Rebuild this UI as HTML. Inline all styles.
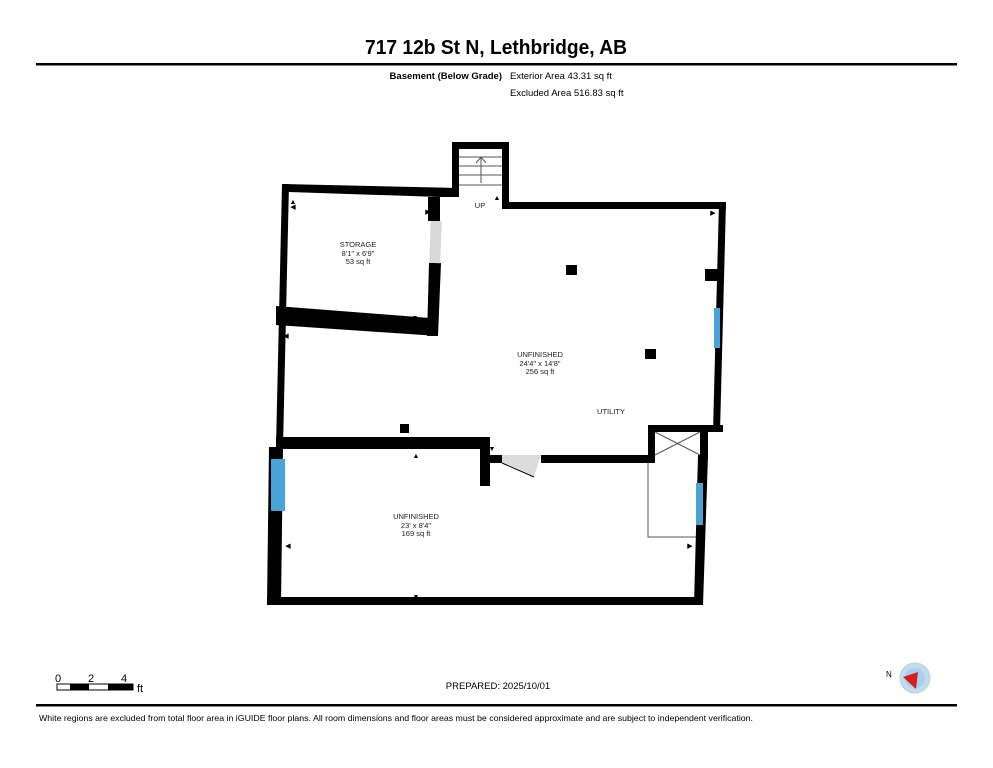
<!DOCTYPE html>
<html><head><meta charset="utf-8"><style>
html,body{margin:0;padding:0;background:#fff;}
svg{display:block;font-family:"Liberation Sans",Arial,sans-serif;}
</style></head><body>
<svg width="993" height="768" viewBox="0 0 993 768" xmlns="http://www.w3.org/2000/svg">
<rect width="993" height="768" fill="#fff"/>
<text x="496" y="54" font-size="20" font-weight="bold" text-anchor="middle" textLength="262" lengthAdjust="spacingAndGlyphs">717 12b St N, Lethbridge, AB</text>
<rect x="36" y="63" width="921" height="2.5" fill="#000"/>
<text x="502" y="79" font-size="9.5" font-weight="bold" text-anchor="end">Basement (Below Grade)</text>
<text x="510" y="79" font-size="9.5">Exterior Area 43.31 sq ft</text>
<text x="510" y="96" font-size="9.5">Excluded Area 516.83 sq ft</text>

<g fill="#000">
<!-- stair box -->
<path d="M452,142 H509 V209 H502 V149 H459 V195 H452 Z"/>
<!-- storage top wall -->
<path d="M282,184 L459,188 L459,197 L440,197 L289,192 Z"/>
<!-- storage right wall -->
<rect x="428" y="197" width="12" height="24"/>
<polygon points="429,263 441,263 438,336 427,336"/>
<!-- storage bottom wall -->
<polygon points="276,306 430,318 438,336 276,325"/>
<!-- main top wall -->
<rect x="502" y="202" width="224" height="7"/>
<!-- right wall -->
<polygon points="719,202 726,202 720,432 713,432"/>
<rect x="705" y="269" width="15" height="12"/>
<!-- utility notch -->
<rect x="648" y="425" width="75" height="7"/>
<rect x="648" y="425" width="7" height="38"/>
<rect x="700" y="425" width="8" height="35"/>
<!-- left wall -->
<polygon points="282,184 289,184 283,447 276,447"/>
<polygon points="269,447 283,447 281,605 267,605"/>
<!-- lower right wall -->
<polygon points="698,455 708,455 703,605 694,605"/>
<!-- bottom wall -->
<polygon points="267,597 700,597 700,605 267,605"/>
<!-- middle wall -->
<rect x="276" y="437" width="214" height="12"/>
<rect x="480" y="437" width="10" height="49"/>
<rect x="489" y="455" width="13" height="8"/>
<rect x="541" y="455" width="112" height="8"/>
<!-- columns -->
<rect x="566" y="265" width="11" height="10"/>
<rect x="645" y="349" width="11" height="10"/>
<rect x="400" y="424" width="9" height="9"/>
</g>
<!-- door gray -->
<rect x="430" y="221" width="11" height="42" fill="#d8d8d8" transform="rotate(2 435 242)"/>
<path d="M502,455 H541 L537,467 Q535,473 534,477 L502,463 Z" fill="#dcdcdc"/>
<line x1="502" y1="463" x2="534" y2="477" stroke="#000" stroke-width="1"/>
<!-- windows -->
<rect x="714" y="308" width="6" height="40" fill="#4aa3d8"/>
<rect x="271" y="459" width="14" height="52" fill="#4aa3d8"/>
<rect x="696" y="483" width="7" height="42" fill="#4aa3d8"/>
<!-- stairs lines -->
<g stroke="#555" stroke-width="1" fill="none">
<line x1="459" y1="157" x2="502" y2="157"/>
<line x1="459" y1="166" x2="502" y2="166"/>
<line x1="459" y1="175" x2="502" y2="175"/>
<line x1="459" y1="185" x2="502" y2="185"/>
<line x1="481" y1="183" x2="481" y2="157"/>
<polyline points="476,163 481,157 486,163"/>
<!-- utility X -->
<line x1="655" y1="432" x2="700" y2="455"/>
<line x1="700" y1="432" x2="655" y2="455"/>
<!-- closet -->
<polyline points="648,463 648,537 696,537"/>
</g>
<!-- labels -->
<g font-size="7.5" text-anchor="middle" fill="#222">
<text x="480" y="208">UP</text>
<text x="358" y="247">STORAGE</text>
<text x="358" y="256">8'1" x 6'9"</text>
<text x="358" y="264">53 sq ft</text>
<text x="540" y="357">UNFINISHED</text>
<text x="540" y="366">24'4" x 14'8"</text>
<text x="540" y="374">256 sq ft</text>
<text x="611" y="414">UTILITY</text>
<text x="416" y="519">UNFINISHED</text>
<text x="416" y="528">23' x 8'4"</text>
<text x="416" y="536">169 sq ft</text>
</g>
<g font-size="7" fill="#000" text-anchor="middle">
<text x="293" y="204">▲</text><text x="293" y="209">◀</text>
<text x="428" y="214">▶</text><text x="415" y="320">▼</text>
<text x="497" y="200">▲</text><text x="713" y="215">▶</text>
<text x="286" y="338">◀</text><text x="492" y="451">▼</text>
<text x="416" y="458">▲</text><text x="288" y="548">◀</text>
<text x="690" y="548">▶</text><text x="416" y="599">▼</text>
</g>
<!-- scale -->
<g font-size="11" fill="#000">
<text x="55" y="682">0</text><text x="88" y="682">2</text><text x="121" y="682">4</text>
<text x="137" y="692">ft</text>
</g>
<rect x="57" y="684" width="76" height="6" fill="#fff" stroke="#000" stroke-width="1"/>
<rect x="70" y="684" width="19" height="6" fill="#000"/>
<rect x="108" y="684" width="25" height="6" fill="#000"/>
<text x="498" y="689" font-size="9.5" text-anchor="middle">PREPARED: 2025/10/01</text>
<!-- compass -->
<circle cx="915" cy="678" r="15" fill="#bfdcf0" stroke="#ccc"/>
<circle cx="915" cy="678" r="10" fill="#a8cfec"/>
<polygon points="903,677 918,672 916,689" fill="#d81c1c"/>
<text x="886" y="677" font-size="8">N</text>
<rect x="36" y="704" width="921" height="2.5" fill="#000"/>
<text x="39" y="721" font-size="8.5" textLength="714" lengthAdjust="spacingAndGlyphs">White regions are excluded from total floor area in iGUIDE floor plans. All room dimensions and floor areas must be considered approximate and are subject to independent verification.</text>
</svg>
</body></html>
